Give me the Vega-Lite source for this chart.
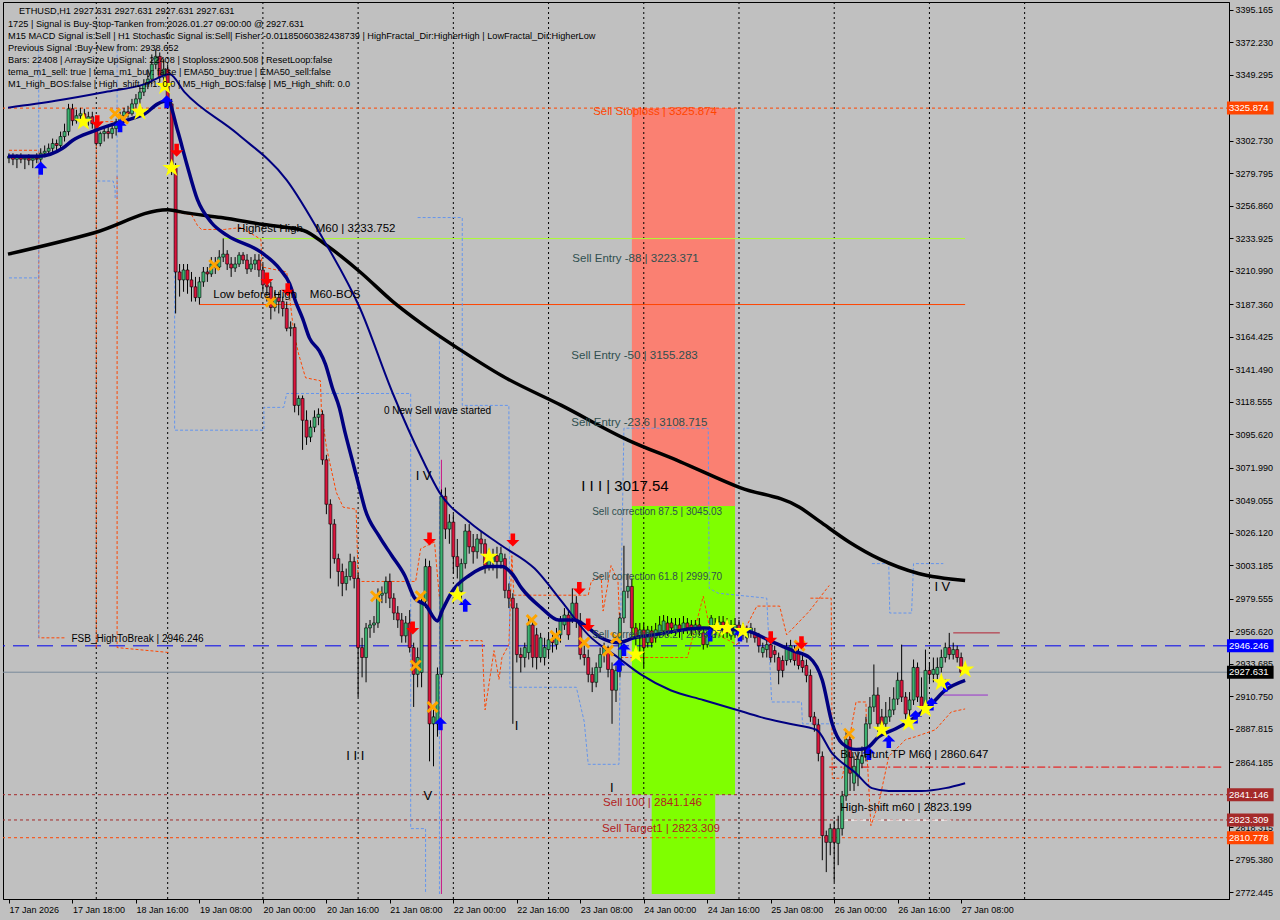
{
"$schema":"https://vega.github.io/schema/vega-lite/v6.json",
"width":1226,"height":897,
"autosize":{"type":"none"},
"padding":{"left":3,"top":2,"right":51,"bottom":21},
"background":"#c0c0c0",
"config":{"view":{"stroke":"#000000","strokeWidth":1,"fill":"#c0c0c0"},"font":"Liberation Sans","text":{"font":"Liberation Sans"}},
"data":{"values":[{}]},
"resolve":{"axis":{"x":"independent","y":"independent"}},
"datasets":{
"candles":[
{"t":0,"o":3290.5,"h":3294.0,"l":3287.0,"c":3291.9},{"t":1,"o":3291.9,"h":3294.0,"l":3285.6,"c":3289.8},{"t":2,"o":3289.8,"h":3293.3,"l":3283.5,"c":3291.2},{"t":3,"o":3291.2,"h":3294.0,"l":3287.0,"c":3289.8},{"t":4,"o":3289.8,"h":3292.6,"l":3282.8,"c":3290.5},{"t":5,"o":3290.5,"h":3293.3,"l":3285.6,"c":3289.1},{"t":6,"o":3289.1,"h":3292.6,"l":3283.5,"c":3290.5},{"t":7,"o":3290.5,"h":3294.0,"l":3287.0,"c":3289.8},{"t":8,"o":3289.8,"h":3297.5,"l":3287.0,"c":3294.0},{"t":9,"o":3294.0,"h":3299.5,"l":3291.2,"c":3295.4},
{"t":10,"o":3295.4,"h":3300.9,"l":3292.6,"c":3297.5},{"t":11,"o":3297.5,"h":3304.4,"l":3294.0,"c":3300.9},{"t":12,"o":3300.9,"h":3303.7,"l":3295.4,"c":3299.5},{"t":13,"o":3299.5,"h":3309.3,"l":3297.5,"c":3305.8},{"t":14,"o":3305.8,"h":3314.9,"l":3302.3,"c":3309.3},{"t":15,"o":3309.3,"h":3328.9,"l":3306.5,"c":3325.4},{"t":16,"o":3325.4,"h":3328.9,"l":3313.5,"c":3317.0},{"t":17,"o":3317.0,"h":3324.7,"l":3314.9,"c":3320.5},{"t":18,"o":3320.5,"h":3326.1,"l":3316.3,"c":3321.9},{"t":19,"o":3321.9,"h":3325.4,"l":3314.9,"c":3317.7},
{"t":20,"o":3317.7,"h":3323.3,"l":3313.5,"c":3319.8},{"t":21,"o":3319.8,"h":3323.3,"l":3311.4,"c":3314.9},{"t":22,"o":3314.9,"h":3318.4,"l":3299.5,"c":3300.9},{"t":23,"o":3300.9,"h":3309.3,"l":3298.9,"c":3307.9},{"t":24,"o":3307.9,"h":3312.1,"l":3302.3,"c":3309.3},{"t":25,"o":3309.3,"h":3312.8,"l":3304.4,"c":3307.9},{"t":26,"o":3307.9,"h":3314.9,"l":3304.4,"c":3311.4},{"t":27,"o":3311.4,"h":3318.4,"l":3306.5,"c":3316.3},{"t":28,"o":3316.3,"h":3323.3,"l":3313.5,"c":3320.5},{"t":29,"o":3320.5,"h":3326.1,"l":3318.4,"c":3323.3},
{"t":30,"o":3323.3,"h":3327.5,"l":3319.1,"c":3321.9},{"t":31,"o":3321.9,"h":3332.4,"l":3320.5,"c":3328.9},{"t":32,"o":3328.9,"h":3335.8,"l":3326.1,"c":3332.4},{"t":33,"o":3332.4,"h":3341.4,"l":3328.9,"c":3337.2},{"t":34,"o":3337.2,"h":3346.3,"l":3334.4,"c":3342.8},{"t":35,"o":3342.8,"h":3353.3,"l":3339.3,"c":3346.3},{"t":36,"o":3346.3,"h":3363.8,"l":3342.8,"c":3356.8},{"t":37,"o":3356.8,"h":3367.3,"l":3353.3,"c":3362.4},{"t":38,"o":3362.4,"h":3365.2,"l":3344.2,"c":3347.7},{"t":39,"o":3347.7,"h":3360.3,"l":3342.8,"c":3353.3},
{"t":40,"o":3353.3,"h":3356.8,"l":3325.4,"c":3328.9},{"t":41,"o":3328.9,"h":3332.4,"l":3278.6,"c":3283.5},{"t":42,"o":3283.5,"h":3287.0,"l":3180.9,"c":3210.2},{"t":43,"o":3210.2,"h":3215.8,"l":3192.8,"c":3204.6},{"t":44,"o":3204.6,"h":3215.8,"l":3196.2,"c":3211.6},{"t":45,"o":3211.6,"h":3215.8,"l":3194.8,"c":3204.6},{"t":46,"o":3204.6,"h":3210.2,"l":3189.3,"c":3199.7},{"t":47,"o":3199.7,"h":3206.7,"l":3189.3,"c":3192.1},{"t":48,"o":3192.1,"h":3206.7,"l":3187.2,"c":3203.2},{"t":49,"o":3203.2,"h":3213.7,"l":3199.7,"c":3210.2},
{"t":50,"o":3210.2,"h":3213.7,"l":3203.2,"c":3208.8},{"t":51,"o":3208.8,"h":3220.7,"l":3206.7,"c":3215.8},{"t":52,"o":3215.8,"h":3220.7,"l":3208.8,"c":3213.7},{"t":53,"o":3213.7,"h":3225.6,"l":3211.6,"c":3220.7},{"t":54,"o":3220.7,"h":3233.9,"l":3217.2,"c":3222.8},{"t":55,"o":3222.8,"h":3225.6,"l":3211.6,"c":3215.8},{"t":56,"o":3215.8,"h":3220.7,"l":3206.7,"c":3213.0},{"t":57,"o":3213.0,"h":3220.7,"l":3210.2,"c":3215.8},{"t":58,"o":3215.8,"h":3224.2,"l":3213.7,"c":3222.1},{"t":59,"o":3222.1,"h":3224.2,"l":3215.8,"c":3218.6},
{"t":60,"o":3218.6,"h":3222.8,"l":3208.8,"c":3212.3},{"t":61,"o":3212.3,"h":3220.7,"l":3210.2,"c":3215.8},{"t":62,"o":3215.8,"h":3222.8,"l":3211.6,"c":3218.6},{"t":63,"o":3218.6,"h":3222.8,"l":3206.7,"c":3211.6},{"t":64,"o":3211.6,"h":3215.8,"l":3196.2,"c":3201.1},{"t":65,"o":3201.1,"h":3204.6,"l":3189.3,"c":3199.7},{"t":66,"o":3199.7,"h":3203.2,"l":3176.7,"c":3185.1},{"t":67,"o":3185.1,"h":3196.2,"l":3182.3,"c":3192.1},{"t":68,"o":3192.1,"h":3196.2,"l":3180.9,"c":3189.3},{"t":69,"o":3189.3,"h":3192.8,"l":3178.8,"c":3184.4},
{"t":70,"o":3184.4,"h":3189.3,"l":3168.3,"c":3170.4},{"t":71,"o":3170.4,"h":3175.3,"l":3164.8,"c":3171.1},{"t":72,"o":3171.1,"h":3173.9,"l":3111.1,"c":3116.0},{"t":73,"o":3116.0,"h":3123.0,"l":3109.0,"c":3120.9},{"t":74,"o":3120.9,"h":3123.0,"l":3084.6,"c":3105.5},{"t":75,"o":3105.5,"h":3112.5,"l":3088.1,"c":3093.6},{"t":76,"o":3093.6,"h":3105.5,"l":3090.1,"c":3100.6},{"t":77,"o":3100.6,"h":3112.5,"l":3097.1,"c":3107.6},{"t":78,"o":3107.6,"h":3113.9,"l":3102.0,"c":3109.7},{"t":79,"o":3109.7,"h":3112.5,"l":3074.1,"c":3077.6},
{"t":80,"o":3077.6,"h":3081.1,"l":3039.2,"c":3046.2},{"t":81,"o":3046.2,"h":3049.7,"l":2993.8,"c":3032.2},{"t":82,"o":3032.2,"h":3035.7,"l":3004.3,"c":3007.8},{"t":83,"o":3007.8,"h":3011.3,"l":2988.2,"c":2998.7},{"t":84,"o":2998.7,"h":3004.3,"l":2981.3,"c":2990.3},{"t":85,"o":2990.3,"h":3000.8,"l":2985.4,"c":2995.2},{"t":86,"o":2995.2,"h":3011.3,"l":2992.4,"c":3005.7},{"t":87,"o":3005.7,"h":3009.2,"l":2986.8,"c":2993.8},{"t":88,"o":2993.8,"h":2997.3,"l":2910.1,"c":2945.0},{"t":89,"o":2945.0,"h":2951.9,"l":2924.0,"c":2938.0},
{"t":90,"o":2938.0,"h":2962.4,"l":2920.5,"c":2958.9},{"t":91,"o":2958.9,"h":2964.5,"l":2951.9,"c":2961.0},{"t":92,"o":2961.0,"h":2967.3,"l":2955.4,"c":2962.4},{"t":93,"o":2962.4,"h":2986.8,"l":2958.9,"c":2982.0},{"t":94,"o":2982.0,"h":2988.2,"l":2976.4,"c":2983.4},{"t":95,"o":2983.4,"h":2995.2,"l":2976.4,"c":2991.7},{"t":96,"o":2991.7,"h":2997.3,"l":2972.9,"c":2979.9},{"t":97,"o":2979.9,"h":2983.4,"l":2964.5,"c":2969.4},{"t":98,"o":2969.4,"h":2974.3,"l":2958.9,"c":2964.5},{"t":99,"o":2964.5,"h":2969.4,"l":2948.5,"c":2953.3},
{"t":100,"o":2953.3,"h":2967.3,"l":2948.5,"c":2962.4},{"t":101,"o":2962.4,"h":2971.5,"l":2941.5,"c":2945.0},{"t":102,"o":2945.0,"h":2948.5,"l":2903.1,"c":2926.1},{"t":103,"o":2926.1,"h":2945.0,"l":2917.0,"c":2938.0},{"t":104,"o":2927.5,"h":2981.3,"l":2917.0,"c":2977.8},{"t":105,"o":2977.8,"h":3007.8,"l":2972.9,"c":3002.2},{"t":106,"o":3002.2,"h":3006.4,"l":2864.7,"c":2891.2},{"t":107,"o":2891.2,"h":2901.7,"l":2861.2,"c":2896.1},{"t":108,"o":2891.2,"h":2931.0,"l":2882.1,"c":2926.1},{"t":109,"o":2926.1,"h":3056.6,"l":2924.0,"c":3051.8},
{"t":110,"o":3051.8,"h":3058.0,"l":3021.7,"c":3028.7},{"t":111,"o":3028.7,"h":3039.2,"l":3018.3,"c":3033.6},{"t":112,"o":3033.6,"h":3039.2,"l":2997.3,"c":3009.2},{"t":113,"o":3009.2,"h":3021.7,"l":2993.8,"c":3002.2},{"t":114,"o":2984.8,"h":3007.8,"l":2976.4,"c":3004.3},{"t":115,"o":3004.3,"h":3032.2,"l":3000.8,"c":3027.3},{"t":116,"o":3027.3,"h":3032.2,"l":3011.3,"c":3016.2},{"t":117,"o":3016.2,"h":3025.2,"l":3004.3,"c":3012.7},{"t":118,"o":3012.7,"h":3025.2,"l":3007.8,"c":3021.7},{"t":119,"o":3021.7,"h":3027.3,"l":3011.3,"c":3018.3},
{"t":120,"o":3018.3,"h":3021.7,"l":2997.3,"c":3002.9},{"t":121,"o":3002.9,"h":3014.8,"l":2999.4,"c":3007.8},{"t":122,"o":3005.7,"h":3014.8,"l":2999.4,"c":3009.9},{"t":123,"o":3009.9,"h":3016.2,"l":2993.8,"c":3005.7},{"t":124,"o":3005.7,"h":3016.2,"l":3000.8,"c":3011.3},{"t":125,"o":3007.8,"h":3011.3,"l":2979.9,"c":2985.4},{"t":126,"o":2985.4,"h":2990.3,"l":2972.9,"c":2979.9},{"t":127,"o":2979.9,"h":2983.4,"l":2891.2,"c":2972.9},{"t":128,"o":2972.9,"h":2976.4,"l":2934.5,"c":2940.1},{"t":129,"o":2940.1,"h":2945.0,"l":2927.5,"c":2938.0},
{"t":130,"o":2938.0,"h":2948.5,"l":2931.0,"c":2945.0},{"t":131,"o":2941.5,"h":2965.9,"l":2936.6,"c":2961.0},{"t":132,"o":2961.0,"h":2964.5,"l":2931.0,"c":2938.0},{"t":133,"o":2954.0,"h":2958.9,"l":2929.6,"c":2938.0},{"t":134,"o":2938.0,"h":2955.4,"l":2934.5,"c":2951.9},{"t":135,"o":2938.0,"h":2951.9,"l":2932.4,"c":2945.0},{"t":136,"o":2943.6,"h":2955.4,"l":2938.0,"c":2950.5},{"t":137,"o":2950.5,"h":2955.4,"l":2941.5,"c":2948.5},{"t":138,"o":2947.1,"h":2958.9,"l":2943.6,"c":2954.0},{"t":139,"o":2954.0,"h":2967.3,"l":2948.5,"c":2963.8},
{"t":140,"o":2961.0,"h":2972.9,"l":2957.5,"c":2968.0},{"t":141,"o":2968.0,"h":2971.5,"l":2950.5,"c":2954.0},{"t":142,"o":2965.9,"h":2986.8,"l":2962.4,"c":2976.4},{"t":143,"o":2976.4,"h":2981.3,"l":2958.9,"c":2963.8},{"t":144,"o":2963.8,"h":2969.4,"l":2936.6,"c":2940.1},{"t":145,"o":2940.1,"h":2946.4,"l":2932.4,"c":2938.0},{"t":146,"o":2938.0,"h":2943.6,"l":2920.5,"c":2926.1},{"t":147,"o":2926.1,"h":2931.0,"l":2913.6,"c":2920.5},{"t":148,"o":2920.5,"h":2934.5,"l":2917.0,"c":2931.0},{"t":149,"o":2931.0,"h":2945.0,"l":2927.5,"c":2940.1},
{"t":150,"o":2940.1,"h":2948.5,"l":2934.5,"c":2945.0},{"t":151,"o":2945.0,"h":2946.4,"l":2924.0,"c":2929.6},{"t":152,"o":2929.6,"h":2934.5,"l":2891.2,"c":2914.9},{"t":153,"o":2914.9,"h":2932.4,"l":2906.6,"c":2928.9},{"t":154,"o":2928.9,"h":2969.4,"l":2924.0,"c":2965.9},{"t":155,"o":2965.9,"h":3016.9,"l":2962.4,"c":2984.8},{"t":156,"o":2984.8,"h":2997.3,"l":2979.9,"c":2988.2},{"t":157,"o":2988.2,"h":2993.8,"l":2951.9,"c":2958.9},{"t":158,"o":2958.9,"h":2962.4,"l":2946.4,"c":2951.9},{"t":159,"o":2951.9,"h":2962.4,"l":2941.5,"c":2957.5},
{"t":160,"o":2957.5,"h":2962.4,"l":2931.0,"c":2945.0},{"t":161,"o":2948.5,"h":2960.3,"l":2945.0,"c":2957.5},{"t":162,"o":2956.8,"h":2960.3,"l":2945.0,"c":2948.5},{"t":163,"o":2951.9,"h":2962.4,"l":2948.5,"c":2957.5},{"t":164,"o":2955.4,"h":2967.3,"l":2951.9,"c":2961.0},{"t":165,"o":2956.8,"h":2968.0,"l":2953.3,"c":2963.8},{"t":166,"o":2962.4,"h":2967.3,"l":2953.3,"c":2956.8},{"t":167,"o":2962.4,"h":2965.9,"l":2954.7,"c":2958.9},{"t":168,"o":2956.8,"h":2965.9,"l":2953.3,"c":2961.0},{"t":169,"o":2961.0,"h":2965.9,"l":2951.9,"c":2956.8},
{"t":170,"o":2957.5,"h":2967.3,"l":2954.7,"c":2962.4},{"t":171,"o":2962.4,"h":2965.9,"l":2954.7,"c":2958.9},{"t":172,"o":2961.0,"h":2964.5,"l":2953.3,"c":2957.5},{"t":173,"o":2958.9,"h":2964.5,"l":2955.4,"c":2961.0},{"t":174,"o":2961.0,"h":2965.9,"l":2953.3,"c":2956.8},{"t":175,"o":2955.4,"h":2958.9,"l":2943.6,"c":2947.1},{"t":176,"o":2947.1,"h":2956.8,"l":2945.0,"c":2953.3},{"t":177,"o":2956.8,"h":2968.0,"l":2953.3,"c":2965.9},{"t":178,"o":2955.4,"h":2965.9,"l":2951.9,"c":2961.0},{"t":179,"o":2958.9,"h":2967.3,"l":2956.1,"c":2963.1},
{"t":180,"o":2963.1,"h":2967.3,"l":2951.9,"c":2956.8},{"t":181,"o":2962.4,"h":2965.9,"l":2951.9,"c":2955.4},{"t":182,"o":2953.3,"h":2964.5,"l":2950.5,"c":2960.3},{"t":183,"o":2954.0,"h":2965.9,"l":2951.9,"c":2961.0},{"t":184,"o":2961.0,"h":2964.5,"l":2949.9,"c":2953.3},{"t":185,"o":2958.9,"h":2962.4,"l":2950.5,"c":2954.0},{"t":186,"o":2951.9,"h":2960.3,"l":2948.5,"c":2957.5},{"t":187,"o":2955.4,"h":2962.4,"l":2951.9,"c":2958.9},{"t":188,"o":2955.4,"h":2958.9,"l":2948.5,"c":2951.9},{"t":189,"o":2953.3,"h":2955.4,"l":2941.5,"c":2946.4},
{"t":190,"o":2941.5,"h":2948.5,"l":2938.0,"c":2945.0},{"t":191,"o":2943.6,"h":2950.5,"l":2938.0,"c":2947.1},{"t":192,"o":2947.1,"h":2951.9,"l":2934.5,"c":2938.0},{"t":193,"o":2942.9,"h":2946.4,"l":2934.5,"c":2940.1},{"t":194,"o":2938.0,"h":2941.5,"l":2919.1,"c":2928.9},{"t":195,"o":2935.9,"h":2939.4,"l":2924.0,"c":2928.9},{"t":196,"o":2935.9,"h":2948.5,"l":2932.4,"c":2945.0},{"t":197,"o":2936.6,"h":2950.5,"l":2934.5,"c":2946.4},{"t":198,"o":2943.6,"h":2946.4,"l":2932.4,"c":2935.9},{"t":199,"o":2941.5,"h":2945.0,"l":2929.6,"c":2932.4},
{"t":200,"o":2935.9,"h":2941.5,"l":2927.5,"c":2931.0},{"t":201,"o":2932.4,"h":2936.6,"l":2920.5,"c":2925.4},{"t":202,"o":2925.4,"h":2929.6,"l":2892.6,"c":2896.1},{"t":203,"o":2896.1,"h":2899.6,"l":2885.6,"c":2890.5},{"t":204,"o":2890.5,"h":2894.7,"l":2864.7,"c":2870.3},{"t":205,"o":2868.2,"h":2871.7,"l":2794.9,"c":2812.3},{"t":206,"o":2812.3,"h":2815.8,"l":2786.5,"c":2807.5},{"t":207,"o":2807.5,"h":2820.7,"l":2798.4,"c":2817.2},{"t":208,"o":2817.2,"h":2822.8,"l":2779.5,"c":2807.5},{"t":209,"o":2806.8,"h":2826.3,"l":2791.4,"c":2817.2},
{"t":210,"o":2817.2,"h":2843.8,"l":2812.3,"c":2840.3},{"t":211,"o":2840.3,"h":2885.6,"l":2836.8,"c":2880.1},{"t":212,"o":2880.1,"h":2883.5,"l":2843.8,"c":2856.3},{"t":213,"o":2849.3,"h":2868.2,"l":2843.8,"c":2861.2},{"t":214,"o":2854.2,"h":2871.7,"l":2847.2,"c":2866.1},{"t":215,"o":2863.3,"h":2875.2,"l":2859.8,"c":2868.2},{"t":216,"o":2868.2,"h":2896.1,"l":2864.7,"c":2891.2},{"t":217,"o":2891.2,"h":2910.1,"l":2887.7,"c":2903.1},{"t":218,"o":2903.1,"h":2933.1,"l":2899.6,"c":2911.5},{"t":219,"o":2911.5,"h":2917.0,"l":2885.6,"c":2891.2},
{"t":220,"o":2896.1,"h":2901.7,"l":2885.6,"c":2890.5},{"t":221,"o":2891.2,"h":2906.6,"l":2887.7,"c":2896.1},{"t":222,"o":2896.1,"h":2910.1,"l":2892.6,"c":2901.0},{"t":223,"o":2901.0,"h":2917.0,"l":2897.5,"c":2908.7},{"t":224,"o":2908.7,"h":2927.5,"l":2904.5,"c":2921.9},{"t":225,"o":2921.9,"h":2947.1,"l":2906.6,"c":2910.1},{"t":226,"o":2910.1,"h":2913.6,"l":2894.7,"c":2898.2},{"t":227,"o":2901.0,"h":2913.6,"l":2896.1,"c":2908.0},{"t":228,"o":2908.0,"h":2936.6,"l":2904.5,"c":2931.0},{"t":229,"o":2931.0,"h":2934.5,"l":2906.6,"c":2910.1},
{"t":230,"o":2910.1,"h":2924.0,"l":2899.6,"c":2903.1},{"t":231,"o":2903.1,"h":2943.6,"l":2899.6,"c":2928.9},{"t":232,"o":2928.9,"h":2934.5,"l":2920.5,"c":2926.1},{"t":233,"o":2926.1,"h":2938.0,"l":2920.5,"c":2929.6},{"t":234,"o":2926.1,"h":2938.0,"l":2922.6,"c":2931.0},{"t":235,"o":2931.0,"h":2943.6,"l":2927.5,"c":2938.0},{"t":236,"o":2938.0,"h":2948.5,"l":2934.5,"c":2945.0},{"t":237,"o":2945.0,"h":2955.4,"l":2936.6,"c":2940.1},{"t":238,"o":2940.1,"h":2948.5,"l":2936.6,"c":2943.6},{"t":239,"o":2943.6,"h":2946.4,"l":2934.5,"c":2938.0},
{"t":240,"o":2938.0,"h":2941.5,"l":2925.4,"c":2927.631}
],
"maBlack":[{"t":-0.25,"p":3222.8},{"t":21.75,"p":3238.1},{"t":40,"p":3254.2},{"t":44.25,"p":3252.1},{"t":53.5,"p":3248.6},{"t":64.25,"p":3243.7},{"t":74.25,"p":3239.5},{"t":80,"p":3229.1},{"t":88.5,"p":3210.2},{"t":96.75,"p":3189.3},{"t":104.25,"p":3173.2},{"t":114.25,"p":3154.3},{"t":124.25,"p":3136.9},{"t":139.25,"p":3116.0},{"t":156,"p":3091.5},{"t":169.25,"p":3076.2},{"t":184.25,"p":3058.0},{"t":199.25,"p":3044.1},{"t":204.25,"p":3034.3},{"t":211.75,"p":3019.6},{"t":219.25,"p":3007.8},{"t":229.25,"p":2997.3},{"t":241,"p":2992.4}],
"maFast":[{"t":-0.25,"p":3291.9},{"t":7.5,"p":3291.9},{"t":13.5,"p":3297.5},{"t":16,"p":3303.0},{"t":21,"p":3309.3},{"t":26.75,"p":3314.9},{"t":31,"p":3318.4},{"t":34.25,"p":3321.9},{"t":37.5,"p":3328.9},{"t":40,"p":3331.0},{"t":42.5,"p":3310.0},{"t":44.75,"p":3287.0},{"t":47.5,"p":3261.2},{"t":51,"p":3245.1},{"t":55,"p":3236.0},{"t":63.5,"p":3224.2},{"t":68.25,"p":3212.3},{"t":70.75,"p":3201.8},{"t":72.25,"p":3189.3},{"t":74,"p":3177.4},{"t":75.75,"p":3163.5},{"t":78.25,"p":3154.3},{"t":79.75,"p":3145.2},{"t":81.5,"p":3128.5},{"t":83.25,"p":3114.5},{"t":84.75,"p":3096.4},{"t":86.5,"p":3077.6},{"t":88.25,"p":3058.7},{"t":89.75,"p":3042.7},{"t":93.25,"p":3023.8},{"t":96.5,"p":3009.9},{"t":99.75,"p":2995.9},{"t":102.25,"p":2979.9},{"t":105,"p":2975.0},{"t":108,"p":2963.8},{"t":109.25,"p":2971.5},{"t":111.75,"p":2984.8},{"t":116,"p":2995.9},{"t":121,"p":3002.2},{"t":124.25,"p":3002.2},{"t":126.75,"p":2997.3},{"t":129.25,"p":2986.8},{"t":134.25,"p":2972.9},{"t":138.5,"p":2964.5},{"t":142.5,"p":2964.5},{"t":146,"p":2958.9},{"t":149.25,"p":2951.9},{"t":153.5,"p":2948.5},{"t":157.5,"p":2951.9},{"t":162.5,"p":2954.0},{"t":175,"p":2958.9},{"t":186,"p":2956.8},{"t":191.75,"p":2949.9},{"t":197.5,"p":2942.9},{"t":201.75,"p":2938.0},{"t":205,"p":2921.9},{"t":207.5,"p":2891.2},{"t":210,"p":2877.3},{"t":213.5,"p":2873.1},{"t":216,"p":2873.8},{"t":219.25,"p":2882.1},{"t":223.5,"p":2887.7},{"t":228.5,"p":2896.1},{"t":232.5,"p":2905.2},{"t":236,"p":2914.9},{"t":241,"p":2921.9}],
"maSlow":[{"t":-0.25,"p":3326.1},{"t":11.75,"p":3331.0},{"t":24.25,"p":3337.2},{"t":34.25,"p":3342.8},{"t":40.5,"p":3349.8},{"t":44.25,"p":3337.2},{"t":57.5,"p":3307.9},{"t":70,"p":3275.1},{"t":79.25,"p":3233.2},{"t":88.5,"p":3184.4},{"t":96.75,"p":3124.4},{"t":104.25,"p":3077.6},{"t":108.5,"p":3054.6},{"t":116,"p":3033.6},{"t":124.25,"p":3016.9},{"t":132.5,"p":3000.8},{"t":139.25,"p":2977.8},{"t":146,"p":2954.0},{"t":153.5,"p":2938.0},{"t":159.25,"p":2926.1},{"t":166.75,"p":2914.9},{"t":175,"p":2908.0},{"t":183.5,"p":2901.0},{"t":189.25,"p":2896.1},{"t":196.75,"p":2891.2},{"t":203.5,"p":2887.0},{"t":207.5,"p":2870.3},{"t":213.5,"p":2856.3},{"t":217.5,"p":2845.8},{"t":221.75,"p":2843.8},{"t":230,"p":2843.8},{"t":236,"p":2845.8},{"t":241,"p":2849.3}],
"fracO":[
{"s":1,"k":0,"t":42.25,"p":3252.1},{"s":1,"k":1,"t":46,"p":3250.7},{"s":1,"k":2,"t":47.5,"p":3243.0},{"s":1,"k":3,"t":48.5,"p":3240.2},{"s":1,"k":4,"t":54.25,"p":3240.2},{"s":1,"k":5,"t":58.5,"p":3241.6},{"s":1,"k":6,"t":63.5,"p":3233.2},{"s":1,"k":7,"t":63.75,"p":3213.7},{"s":1,"k":8,"t":70,"p":3210.2},{"s":1,"k":9,"t":71.75,"p":3168.3},{"s":1,"k":10,"t":73,"p":3152.3},{"s":1,"k":11,"t":74.75,"p":3135.5},{"s":1,"k":12,"t":78.5,"p":3133.4},{"s":1,"k":13,"t":78.75,"p":3112.5},{"s":1,"k":14,"t":80,"p":3086.6},{"s":1,"k":15,"t":82.5,"p":3054.6},{"s":1,"k":16,"t":84.25,"p":3044.1},{"s":1,"k":17,"t":87.5,"p":3042.7},{"s":1,"k":18,"t":88,"p":2991.7},{"s":1,"k":19,"t":102.5,"p":2991.7},{"s":1,"k":20,"t":103.75,"p":3014.8},{"s":1,"k":21,"t":107.25,"p":3019.6},{"s":1,"k":22,"t":108.5,"p":2979.9},
{"s":2,"k":0,"t":111.25,"p":2949.9},{"s":2,"k":1,"t":119.25,"p":2949.9},{"s":2,"k":2,"t":120,"p":2901.0},{"s":2,"k":3,"t":122.25,"p":2942.9},{"s":2,"k":4,"t":123.5,"p":2922.6},{"s":2,"k":5,"t":124.25,"p":2938.0},{"s":2,"k":6,"t":126,"p":2947.1},{"s":2,"k":7,"t":126.75,"p":3009.9},{"s":2,"k":8,"t":127.25,"p":2982.0},{"s":2,"k":9,"t":146,"p":2982.0},{"s":2,"k":10,"t":146.75,"p":2991.7},{"s":2,"k":11,"t":149.25,"p":2995.9},{"s":2,"k":12,"t":149.75,"p":2970.8},{"s":2,"k":13,"t":151.75,"p":3002.9},{"s":2,"k":14,"t":153.5,"p":2991.7},{"s":2,"k":15,"t":154.25,"p":2938.0},{"s":2,"k":16,"t":171,"p":2938.0},{"s":2,"k":17,"t":175,"p":2981.3},{"s":2,"k":18,"t":176.75,"p":2956.8},{"s":2,"k":19,"t":183.5,"p":2947.1},{"s":2,"k":20,"t":188.5,"p":2974.3},{"s":2,"k":21,"t":194.25,"p":2974.3},{"s":2,"k":22,"t":196,"p":2954.0},{"s":2,"k":23,"t":201.75,"p":2970.8},{"s":2,"k":24,"t":206.75,"p":2988.9},
{"s":3,"k":0,"t":202,"p":2979.9},{"s":3,"k":1,"t":207.25,"p":2979.9},{"s":3,"k":2,"t":207.5,"p":2852.8},{"s":3,"k":3,"t":210,"p":2852.8},{"s":3,"k":4,"t":213.5,"p":2906.6},{"s":3,"k":5,"t":216,"p":2906.6},{"s":3,"k":6,"t":216.25,"p":2870.3},{"s":3,"k":7,"t":217.25,"p":2819.3},{"s":3,"k":8,"t":219.25,"p":2835.4},{"s":3,"k":9,"t":221.75,"p":2868.2},{"s":3,"k":10,"t":226,"p":2880.1},{"s":3,"k":11,"t":228.5,"p":2882.1},{"s":3,"k":12,"t":233.5,"p":2887.0},{"s":3,"k":13,"t":237.5,"p":2899.6},{"s":3,"k":14,"t":241,"p":2901.7},
{"s":4,"k":0,"t":0,"p":3296.1},{"s":4,"k":1,"t":7.5,"p":3296.1},{"s":4,"k":2,"t":7.5,"p":2951.9},{"s":4,"k":3,"t":14.25,"p":2951.9},
{"s":5,"k":0,"t":22,"p":2945.0},{"s":5,"k":1,"t":22,"p":3316.3},{"s":5,"k":2,"t":26.75,"p":3316.3},
{"s":6,"k":0,"t":27.25,"p":3277.9},{"s":6,"k":1,"t":27.25,"p":2945.0},{"s":6,"k":2,"t":40.5,"p":2941.5}
],
"fracB":[
{"s":1,"k":0,"t":7.5,"p":3370.7},{"s":1,"k":1,"t":7.5,"p":2951.9},
{"s":2,"k":0,"t":0,"p":3206.0},{"s":2,"k":1,"t":7.5,"p":3206.0},
{"s":3,"k":0,"t":27.25,"p":3370.7},{"s":3,"k":1,"t":27.25,"p":3261.2},
{"s":4,"k":0,"t":22.25,"p":3274.4},{"s":4,"k":1,"t":26.25,"p":3274.4},{"s":4,"k":2,"t":26.75,"p":3268.1},{"s":4,"k":3,"t":26.75,"p":3261.2},
{"s":5,"k":0,"t":41.75,"p":3250.0},{"s":5,"k":1,"t":41.75,"p":3098.5},{"s":5,"k":2,"t":64.25,"p":3098.5},{"s":5,"k":3,"t":64.25,"p":3114.6},{"s":5,"k":4,"t":69.25,"p":3114.6},{"s":5,"k":5,"t":70,"p":3124.4},{"s":5,"k":6,"t":101.25,"p":3124.4},{"s":5,"k":7,"t":101.25,"p":2817.2},{"s":5,"k":8,"t":105,"p":2817.2},{"s":5,"k":9,"t":105,"p":2771.05},
{"s":6,"k":0,"t":103,"p":3248.6},{"s":6,"k":1,"t":114.25,"p":3248.6},{"s":6,"k":2,"t":114.25,"p":3116.0},{"s":6,"k":3,"t":126,"p":3116.0},{"s":6,"k":4,"t":126.25,"p":2917.0},{"s":6,"k":5,"t":143,"p":2917.0},{"s":6,"k":6,"t":145,"p":2892.6},{"s":6,"k":7,"t":146,"p":2862.6},{"s":6,"k":8,"t":153.75,"p":2862.6},{"s":6,"k":9,"t":154.25,"p":2979.9},{"s":6,"k":10,"t":155,"p":3099.9},{"s":6,"k":11,"t":176.25,"p":3099.9},{"s":6,"k":12,"t":176.5,"p":2986.8},{"s":6,"k":13,"t":178.75,"p":2983.4},{"s":6,"k":14,"t":191,"p":2979.9},{"s":6,"k":15,"t":192.25,"p":2906.6},{"s":6,"k":16,"t":199.75,"p":2906.6},{"s":6,"k":17,"t":200,"p":2891.2},{"s":6,"k":18,"t":210,"p":2891.2},
{"s":7,"k":0,"t":217.5,"p":3004.3},{"s":7,"k":1,"t":221.75,"p":3004.3},{"s":7,"k":2,"t":222,"p":2969.4},{"s":7,"k":3,"t":227.5,"p":2969.4},{"s":7,"k":4,"t":228,"p":3004.3},{"s":7,"k":5,"t":235.5,"p":3004.3},
{"s":8,"k":0,"t":108.5,"p":3164.8},{"s":8,"k":1,"t":108.5,"p":2771.05}
],
"seps":[{"t":22},{"t":40},{"t":64},{"t":88},{"t":112},{"t":136},{"t":160},{"t":184},{"t":208},{"t":232},{"t":256}],
"arrDn":[{"t":22.25,"p":3316.3},{"t":42.25,"p":3296.1},{"t":65,"p":3205.3},{"t":70.25,"p":3197.6},{"t":106,"p":3021.7},{"t":127,"p":3021.0},{"t":143.75,"p":2986.8},{"t":146,"p":2961.0},{"t":101.75,"p":2958.9},{"t":192,"p":2951.9},{"t":199.75,"p":2948.5}],
"arrUp":[{"t":8,"p":3283.5},{"t":28,"p":3313.5},{"t":39.75,"p":3330.3},{"t":108.75,"p":2891.2},{"t":115,"p":2975.0},{"t":153.75,"p":2932.4},{"t":155,"p":2943.6},{"t":176.75,"p":2954.0},{"t":184.25,"p":2954.0},{"t":216.75,"p":2870.3},{"t":221.75,"p":2878.7},{"t":228.5,"p":2896.1},{"t":232.5,"p":2905.2},{"t":236,"p":2918.4}],
"stars":[{"t":18.75,"p":3316.3},{"t":33,"p":3323.3},{"t":39.25,"p":3341.4},{"t":41,"p":3283.5},{"t":113,"p":2982.0},{"t":121,"p":3009.2},{"t":158,"p":2940.1},{"t":178.5,"p":2958.9},{"t":181,"p":2958.9},{"t":185,"p":2956.8},{"t":220,"p":2887.0},{"t":226.75,"p":2891.9},{"t":231,"p":2901.7},{"t":235,"p":2920.5},{"t":241,"p":2929.6}],
"cross":[{"t":26.75,"p":3321.9},{"t":28.75,"p":3318.4},{"t":51.75,"p":3215.1},{"t":66,"p":3189.3},{"t":92.5,"p":2981.3},{"t":103.75,"p":2981.3},{"t":102.5,"p":2932.4},{"t":106.75,"p":2903.1},{"t":131.75,"p":2964.5},{"t":137.75,"p":2953.3},{"t":145,"p":2948.5},{"t":151,"p":2942.9},{"t":153,"p":2951.9},{"t":199.25,"p":2946.4},{"t":211.75,"p":2884.2}],
"hdr":[{"t":2.5,"p":3394.2,"text":"ETHUSD,H1  2927.631 2927.631 2927.631 2927.631"},{"t":-0.25,"p":3385.1,"text":"1725 | Signal is Buy-Stop-Tanken from:2026.01.27 09:00:00 @ 2927.631"},{"t":-0.25,"p":3376.7,"text":"M15 MACD Signal is:Sell | H1 Stochastic Signal is:Sell| Fisher:-0.01185060382438739 | HighFractal_Dir:HigherHigh | LowFractal_Dir:HigherLow"},{"t":-0.25,"p":3368.4,"text":"Previous Signal :Buy-New from: 2938.652"},{"t":-0.25,"p":3360.0,"text":"Bars: 22408 | ArraySize UpSignal: 22408 | Stoploss:2900.508 | ResetLoop:false"},{"t":-0.25,"p":3351.6,"text":"tema_m1_sell: true | tema_m1_buy: false | EMA50_buy:true | EMA50_sell:false"},{"t":-0.25,"p":3343.2,"text":"M1_High_BOS:false | High_shift_m1: 0.0 | M5_High_BOS:false | M5_High_shift: 0.0"}],
"txtBig":[{"t":57.5,"p":3240.6,"text":"Highest High\u00a0\u00a0\u00a0 M60 | 3233.752"},{"t":51.5,"p":3194.0,"text":"Low before High\u00a0\u00a0\u00a0 M60-BOS"},{"t":209.5,"p":2869.3,"text":"Buy-Hunt TP M60 | 2860.647"},{"t":209.5,"p":2831.6,"text":"High-shift m60 | 2823.199"}],
"txtEntry":[{"t":142,"p":3219.0,"text":"Sell Entry -88 | 3223.371"},{"t":141.75,"p":3150.6,"text":"Sell Entry -50 | 3155.283"},{"t":141.75,"p":3103.8,"text":"Sell Entry -23.6 | 3108.715"}],
"txtCorr":[{"t":147,"p":3040.6,"text":"Sell correction 87.5 | 3045.03"},{"t":147,"p":2995.2,"text":"Sell correction 61.8 | 2999.70"},{"t":147,"p":2953.7,"text":"Sell correction 38.2 | 2958.07"}],
"txtSL":[{"t":147.25,"p":3322.8,"text":"Sell Stoploss | 3325.874"}],
"txtSell":[{"t":149.75,"p":2835.3,"text":"Sell 100 | 2841.146"},{"t":149.5,"p":2817.1,"text":"Sell Target1 | 2823.309"}],
"txtSmall":[{"t":94.5,"p":3111.8,"text":"0 New Sell wave started"},{"t":15.75,"p":2951.2,"text":"FSB_HighToBreak | 2946.246"}],
"txtWave":[{"t":102.5,"p":3066.4,"text":"I V"},{"t":233.25,"p":2987.5,"text":"I V"},{"t":85,"p":2868.2,"text":"I I I"},{"t":104.5,"p":2840.3,"text":"V"},{"t":127.5,"p":2889.8,"text":"I"},{"t":151.5,"p":2845.8,"text":"I"}],
"txtIII":[{"t":144.25,"p":3059.4,"text":"I I I | 3017.54"}],
"tags":[{"p":3325.874,"label":"3325.874","kind":"sl"},{"p":2946.246,"label":"2946.246","kind":"fsb"},{"p":2927.631,"label":"2927.631","kind":"bid"},{"p":2841.146,"label":"2841.146","kind":"s100"},{"p":2823.309,"label":"2823.309","kind":"tgt"},{"p":2810.778,"label":"2810.778","kind":"lo"}]
},
"layer":[
{"mark":{"type":"rect","color":"#fa8072"},"encoding":{"x":{"datum":157,"type":"quantitative","scale":{"domain":[-0.25,306.25],"nice":false,"zero":false},"axis":null},"x2":{"datum":183},"y":{"datum":3325.874,"type":"quantitative","scale":{"domain":[2771.05,3397.26],"nice":false,"zero":false},"axis":null},"y2":{"datum":3045.03}}},
{"mark":{"type":"rect","color":"#7fff00"},"encoding":{"x":{"datum":157,"type":"quantitative","scale":{"domain":[-0.25,306.25],"nice":false,"zero":false},"axis":null},"x2":{"datum":183},"y":{"datum":3045.03,"type":"quantitative","scale":{"domain":[2771.05,3397.26],"nice":false,"zero":false},"axis":null},"y2":{"datum":2841.146}}},
{"mark":{"type":"rect","color":"#7fff00"},"encoding":{"x":{"datum":162,"type":"quantitative","scale":{"domain":[-0.25,306.25],"nice":false,"zero":false},"axis":null},"x2":{"datum":178},"y":{"datum":2841.146,"type":"quantitative","scale":{"domain":[2771.05,3397.26],"nice":false,"zero":false},"axis":null},"y2":{"datum":2771.05}}},
{"data":{"name":"seps"},"mark":{"type":"rule","color":"#000000","strokeWidth":1,"strokeDash":[2,3]},"encoding":{"x":{"field":"t","type":"quantitative","scale":{"domain":[-0.25,306.25],"nice":false,"zero":false},"axis":null}}},
{"mark":{"type":"rule","color":"#ff4500","strokeWidth":1,"strokeDash":[3,3]},"encoding":{"y":{"datum":3325.874,"type":"quantitative","scale":{"domain":[2771.05,3397.26],"nice":false,"zero":false},"axis":null}}},
{"mark":{"type":"rule","color":"#0000ee","strokeWidth":1,"strokeDash":[16,8]},"encoding":{"y":{"datum":2946.246,"type":"quantitative","scale":{"domain":[2771.05,3397.26],"nice":false,"zero":false},"axis":null}}},
{"mark":{"type":"rule","color":"#778899","strokeWidth":1},"encoding":{"y":{"datum":2927.631,"type":"quantitative","scale":{"domain":[2771.05,3397.26],"nice":false,"zero":false},"axis":null}}},
{"mark":{"type":"rule","color":"#a52a2a","strokeWidth":1,"strokeDash":[3,3]},"encoding":{"y":{"datum":2841.146,"type":"quantitative","scale":{"domain":[2771.05,3397.26],"nice":false,"zero":false},"axis":null}}},
{"mark":{"type":"rule","color":"#a52a2a","strokeWidth":1,"strokeDash":[3,3]},"encoding":{"y":{"datum":2823.309,"type":"quantitative","scale":{"domain":[2771.05,3397.26],"nice":false,"zero":false},"axis":null}}},
{"mark":{"type":"rule","color":"#ff4500","strokeWidth":1,"strokeDash":[3,3]},"encoding":{"y":{"datum":2810.778,"type":"quantitative","scale":{"domain":[2771.05,3397.26],"nice":false,"zero":false},"axis":null}}},
{"mark":{"type":"rule","color":"#adff2f","strokeWidth":1},"encoding":{"x":{"datum":54,"type":"quantitative","scale":{"domain":[-0.25,306.25],"nice":false,"zero":false},"axis":null},"x2":{"datum":241},"y":{"datum":3233.752,"type":"quantitative","scale":{"domain":[2771.05,3397.26],"nice":false,"zero":false},"axis":null}}},
{"mark":{"type":"rule","color":"#ff4500","strokeWidth":1},"encoding":{"x":{"datum":48,"type":"quantitative","scale":{"domain":[-0.25,306.25],"nice":false,"zero":false},"axis":null},"x2":{"datum":241},"y":{"datum":3187.2,"type":"quantitative","scale":{"domain":[2771.05,3397.26],"nice":false,"zero":false},"axis":null}}},
{"mark":{"type":"rule","color":"#ee0000","strokeWidth":1,"strokeDash":[8,3,2,3]},"encoding":{"x":{"datum":206.75,"type":"quantitative","scale":{"domain":[-0.25,306.25],"nice":false,"zero":false},"axis":null},"x2":{"datum":306.25},"y":{"datum":2860.647,"type":"quantitative","scale":{"domain":[2771.05,3397.26],"nice":false,"zero":false},"axis":null}}},
{"mark":{"type":"rule","color":"#ffffff","strokeWidth":1,"strokeDash":[6,3]},"encoding":{"x":{"datum":210,"type":"quantitative","scale":{"domain":[-0.25,306.25],"nice":false,"zero":false},"axis":null},"x2":{"datum":237.5},"y":{"datum":2823.199,"type":"quantitative","scale":{"domain":[2771.05,3397.26],"nice":false,"zero":false},"axis":null}}},
{"mark":{"type":"rule","color":"#b22234","strokeWidth":1},"encoding":{"x":{"datum":238,"type":"quantitative","scale":{"domain":[-0.25,306.25],"nice":false,"zero":false},"axis":null},"x2":{"datum":249.75},"y":{"datum":2955.4,"type":"quantitative","scale":{"domain":[2771.05,3397.26],"nice":false,"zero":false},"axis":null}}},
{"mark":{"type":"rule","color":"#9932cc","strokeWidth":1},"encoding":{"x":{"datum":235.5,"type":"quantitative","scale":{"domain":[-0.25,306.25],"nice":false,"zero":false},"axis":null},"x2":{"datum":246.75},"y":{"datum":2911.5,"type":"quantitative","scale":{"domain":[2771.05,3397.26],"nice":false,"zero":false},"axis":null}}},
{"mark":{"type":"rule","color":"#c71585","strokeWidth":1},"encoding":{"x":{"datum":109,"type":"quantitative","scale":{"domain":[-0.25,306.25],"nice":false,"zero":false},"axis":null},"y":{"datum":3077.6,"type":"quantitative","scale":{"domain":[2771.05,3397.26],"nice":false,"zero":false},"axis":null},"y2":{"datum":2771.05}}},
{"data":{"name":"fracO"},"mark":{"type":"line","color":"#ff4500","strokeWidth":1,"strokeDash":[3,2]},"encoding":{"x":{"field":"t","type":"quantitative","scale":{"domain":[-0.25,306.25],"nice":false,"zero":false},"axis":null},"y":{"field":"p","type":"quantitative","scale":{"domain":[2771.05,3397.26],"nice":false,"zero":false},"axis":null},"detail":{"field":"s","type":"nominal"},"order":{"field":"k","type":"quantitative"}}},
{"data":{"name":"fracB"},"mark":{"type":"line","color":"#6495ed","strokeWidth":1,"strokeDash":[3,2]},"encoding":{"x":{"field":"t","type":"quantitative","scale":{"domain":[-0.25,306.25],"nice":false,"zero":false},"axis":null},"y":{"field":"p","type":"quantitative","scale":{"domain":[2771.05,3397.26],"nice":false,"zero":false},"axis":null},"detail":{"field":"s","type":"nominal"},"order":{"field":"k","type":"quantitative"}}},
{"data":{"name":"candles"},"mark":{"type":"rule","color":"#000000","strokeWidth":1},"encoding":{
"x":{"field":"t","type":"quantitative","scale":{"domain":[-0.25,306.25],"nice":false,"zero":false},"axis":{"values":[0,16,32,48,64,80,96,112,128,144,160,176,192,208,224,240],"labelExpr":"['17 Jan 2026','17 Jan 18:00','18 Jan 16:00','19 Jan 08:00','20 Jan 00:00','20 Jan 16:00','21 Jan 08:00','22 Jan 00:00','22 Jan 16:00','23 Jan 08:00','24 Jan 00:00','24 Jan 16:00','25 Jan 08:00','26 Jan 00:00','26 Jan 16:00','27 Jan 08:00'][round(datum.value/16)]","labelAlign":"left","labelPadding":2,"tickSize":4,"tickColor":"#000000","domainColor":"#000000","labelColor":"#000000","labelFontSize":9,"labelFont":"Liberation Sans","title":null,"grid":false,"labelFlush":false,"labelOverlap":false,"labelBound":false}},
"y":{"field":"h","type":"quantitative","scale":{"domain":[2771.05,3397.26],"nice":false,"zero":false},"axis":{"orient":"right","values":[3395.165,3372.23,3349.295,3302.73,3279.795,3256.86,3233.925,3210.99,3187.36,3164.425,3141.49,3118.555,3095.62,3071.99,3049.055,3026.12,3003.185,2979.555,2956.62,2933.685,2910.75,2887.815,2864.185,2818.315,2795.38,2772.445],"format":".3f","tickSize":4,"labelPadding":2,"tickColor":"#000000","domainColor":"#000000","labelColor":"#000000","labelFontSize":9,"labelFont":"Liberation Sans","title":null,"grid":false,"labelFlush":false,"labelOverlap":false,"labelBound":false}},
"y2":{"field":"l"}}},
{"data":{"name":"candles"},"mark":{"type":"bar","size":3,"stroke":"#000000","strokeWidth":0.6,"orient":"vertical"},"encoding":{"x":{"field":"t","type":"quantitative","scale":{"domain":[-0.25,306.25],"nice":false,"zero":false},"axis":null},"y":{"field":"o","type":"quantitative","scale":{"domain":[2771.05,3397.26],"nice":false,"zero":false},"axis":null},"y2":{"field":"c"},"color":{"condition":{"test":"datum.c >= datum.o","value":"#3cb371"},"value":"#dc143c"}}},
{"data":{"name":"maBlack"},"mark":{"type":"line","color":"#000000","strokeWidth":3.5,"interpolate":"monotone"},"encoding":{"x":{"field":"t","type":"quantitative","scale":{"domain":[-0.25,306.25],"nice":false,"zero":false},"axis":null},"y":{"field":"p","type":"quantitative","scale":{"domain":[2771.05,3397.26],"nice":false,"zero":false},"axis":null}}},
{"data":{"name":"maSlow"},"mark":{"type":"line","color":"#000080","strokeWidth":2,"interpolate":"monotone"},"encoding":{"x":{"field":"t","type":"quantitative","scale":{"domain":[-0.25,306.25],"nice":false,"zero":false},"axis":null},"y":{"field":"p","type":"quantitative","scale":{"domain":[2771.05,3397.26],"nice":false,"zero":false},"axis":null}}},
{"data":{"name":"maFast"},"mark":{"type":"line","color":"#000080","strokeWidth":3.5,"interpolate":"monotone"},"encoding":{"x":{"field":"t","type":"quantitative","scale":{"domain":[-0.25,306.25],"nice":false,"zero":false},"axis":null},"y":{"field":"p","type":"quantitative","scale":{"domain":[2771.05,3397.26],"nice":false,"zero":false},"axis":null}}},
{"data":{"name":"cross"},"mark":{"type":"point","shape":"M-1,-1L1,1M-1,1L1,-1","filled":false,"color":"#ffa500","strokeWidth":3,"size":100,"opacity":1},"encoding":{"x":{"field":"t","type":"quantitative","scale":{"domain":[-0.25,306.25],"nice":false,"zero":false},"axis":null},"y":{"field":"p","type":"quantitative","scale":{"domain":[2771.05,3397.26],"nice":false,"zero":false},"axis":null}}},
{"data":{"name":"arrDn"},"mark":{"type":"point","shape":"M-0.35,-1L0.35,-1L0.35,0L1,0L0,1L-1,0L-0.35,0Z","filled":true,"color":"#ff0000","size":170,"opacity":1},"encoding":{"x":{"field":"t","type":"quantitative","scale":{"domain":[-0.25,306.25],"nice":false,"zero":false},"axis":null},"y":{"field":"p","type":"quantitative","scale":{"domain":[2771.05,3397.26],"nice":false,"zero":false},"axis":null}}},
{"data":{"name":"arrUp"},"mark":{"type":"point","shape":"M-0.35,1L0.35,1L0.35,0L1,0L0,-1L-1,0L-0.35,0Z","filled":true,"color":"#0000ff","size":170,"opacity":1},"encoding":{"x":{"field":"t","type":"quantitative","scale":{"domain":[-0.25,306.25],"nice":false,"zero":false},"axis":null},"y":{"field":"p","type":"quantitative","scale":{"domain":[2771.05,3397.26],"nice":false,"zero":false},"axis":null}}},
{"data":{"name":"stars"},"mark":{"type":"point","shape":"M0,-1L0.225,-0.309L0.951,-0.309L0.363,0.118L0.588,0.809L0,0.382L-0.588,0.809L-0.363,0.118L-0.951,-0.309L-0.225,-0.309Z","filled":true,"color":"#ffff00","size":380,"opacity":1},"encoding":{"x":{"field":"t","type":"quantitative","scale":{"domain":[-0.25,306.25],"nice":false,"zero":false},"axis":null},"y":{"field":"p","type":"quantitative","scale":{"domain":[2771.05,3397.26],"nice":false,"zero":false},"axis":null}}},
{"data":{"name":"hdr"},"mark":{"type":"text","align":"left","baseline":"middle","fontSize":9.2,"color":"#000000"},"encoding":{"x":{"field":"t","type":"quantitative","scale":{"domain":[-0.25,306.25],"nice":false,"zero":false},"axis":null},"y":{"field":"p","type":"quantitative","scale":{"domain":[2771.05,3397.26],"nice":false,"zero":false},"axis":null},"text":{"field":"text"}}},
{"data":{"name":"txtBig"},"mark":{"type":"text","align":"left","baseline":"middle","fontSize":11.5,"color":"#000000"},"encoding":{"x":{"field":"t","type":"quantitative","scale":{"domain":[-0.25,306.25],"nice":false,"zero":false},"axis":null},"y":{"field":"p","type":"quantitative","scale":{"domain":[2771.05,3397.26],"nice":false,"zero":false},"axis":null},"text":{"field":"text"}}},
{"data":{"name":"txtEntry"},"mark":{"type":"text","align":"left","baseline":"middle","fontSize":11.5,"color":"#2f4f4f"},"encoding":{"x":{"field":"t","type":"quantitative","scale":{"domain":[-0.25,306.25],"nice":false,"zero":false},"axis":null},"y":{"field":"p","type":"quantitative","scale":{"domain":[2771.05,3397.26],"nice":false,"zero":false},"axis":null},"text":{"field":"text"}}},
{"data":{"name":"txtCorr"},"mark":{"type":"text","align":"left","baseline":"middle","fontSize":10,"color":"#2f4f4f"},"encoding":{"x":{"field":"t","type":"quantitative","scale":{"domain":[-0.25,306.25],"nice":false,"zero":false},"axis":null},"y":{"field":"p","type":"quantitative","scale":{"domain":[2771.05,3397.26],"nice":false,"zero":false},"axis":null},"text":{"field":"text"}}},
{"data":{"name":"txtSL"},"mark":{"type":"text","align":"left","baseline":"middle","fontSize":11.5,"color":"#ff4500"},"encoding":{"x":{"field":"t","type":"quantitative","scale":{"domain":[-0.25,306.25],"nice":false,"zero":false},"axis":null},"y":{"field":"p","type":"quantitative","scale":{"domain":[2771.05,3397.26],"nice":false,"zero":false},"axis":null},"text":{"field":"text"}}},
{"data":{"name":"txtSell"},"mark":{"type":"text","align":"left","baseline":"middle","fontSize":11.5,"color":"#b22222"},"encoding":{"x":{"field":"t","type":"quantitative","scale":{"domain":[-0.25,306.25],"nice":false,"zero":false},"axis":null},"y":{"field":"p","type":"quantitative","scale":{"domain":[2771.05,3397.26],"nice":false,"zero":false},"axis":null},"text":{"field":"text"}}},
{"data":{"name":"txtSmall"},"mark":{"type":"text","align":"left","baseline":"middle","fontSize":10,"color":"#000000"},"encoding":{"x":{"field":"t","type":"quantitative","scale":{"domain":[-0.25,306.25],"nice":false,"zero":false},"axis":null},"y":{"field":"p","type":"quantitative","scale":{"domain":[2771.05,3397.26],"nice":false,"zero":false},"axis":null},"text":{"field":"text"}}},
{"data":{"name":"txtWave"},"mark":{"type":"text","align":"left","baseline":"middle","fontSize":13,"color":"#000000"},"encoding":{"x":{"field":"t","type":"quantitative","scale":{"domain":[-0.25,306.25],"nice":false,"zero":false},"axis":null},"y":{"field":"p","type":"quantitative","scale":{"domain":[2771.05,3397.26],"nice":false,"zero":false},"axis":null},"text":{"field":"text"}}},
{"data":{"name":"txtIII"},"mark":{"type":"text","align":"left","baseline":"middle","fontSize":15,"color":"#000000"},"encoding":{"x":{"field":"t","type":"quantitative","scale":{"domain":[-0.25,306.25],"nice":false,"zero":false},"axis":null},"y":{"field":"p","type":"quantitative","scale":{"domain":[2771.05,3397.26],"nice":false,"zero":false},"axis":null},"text":{"field":"text"}}},
{"data":{"name":"tags"},"mark":{"type":"bar","orient":"horizontal","size":13},"encoding":{"x":{"datum":307,"type":"quantitative","scale":{"domain":[-0.25,306.25],"nice":false,"zero":false},"axis":null},"x2":{"datum":318.75},"y":{"field":"p","type":"quantitative","scale":{"domain":[2771.05,3397.26],"nice":false,"zero":false},"axis":null},"color":{"field":"kind","type":"nominal","scale":{"domain":["sl","fsb","bid","s100","tgt","lo"],"range":["#ff4500","#0000ff","#000000","#a52a2a","#a52a2a","#ff4500"]},"legend":null}}},
{"data":{"name":"tags"},"mark":{"type":"text","align":"left","baseline":"middle","fontSize":9.5,"color":"#ffffff"},"encoding":{"x":{"datum":307.5,"type":"quantitative","scale":{"domain":[-0.25,306.25],"nice":false,"zero":false},"axis":null},"y":{"field":"p","type":"quantitative","scale":{"domain":[2771.05,3397.26],"nice":false,"zero":false},"axis":null},"text":{"field":"label"}}}
]
}
